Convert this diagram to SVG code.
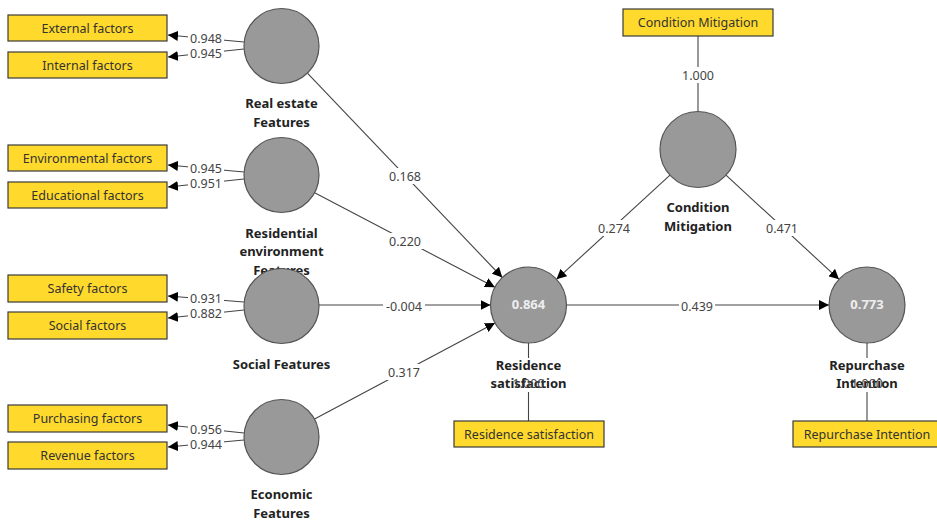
<svg xmlns="http://www.w3.org/2000/svg" width="937" height="521" viewBox="0 0 937 521">
<style>
.box{fill:#FFD92B;stroke:#3a3a3a;stroke-width:1.2}
.bt{font-family:"Noto Sans","Open Sans",sans-serif;font-size:12.5px;fill:#333;text-anchor:middle;dominant-baseline:central}
.lv{fill:#999;stroke:#555;stroke-width:1.2}
.nl{font-family:"Noto Sans","Open Sans",sans-serif;font-size:13px;font-weight:bold;fill:#222;text-anchor:middle}
.r2{font-family:"Noto Sans","Open Sans",sans-serif;font-size:13px;font-weight:bold;fill:#eee;text-anchor:middle;dominant-baseline:central}
.c{stroke:#444;stroke-width:1.1;fill:none}
.ca{stroke:#444;stroke-width:1.1;fill:none;marker-end:url(#ah)}
.lb{fill:#fff}
.lt{font-family:"Noto Sans","Open Sans",sans-serif;font-size:12.5px;fill:#444;text-anchor:middle;dominant-baseline:central}
</style>
<defs>
<marker id="ah" markerUnits="userSpaceOnUse" markerWidth="10" markerHeight="10" viewBox="0 0 10 10" refX="10" refY="5" orient="auto">
<path d="M0,0 L10,5 L0,10 z" fill="#000"/>
</marker>
</defs>
<rect width="937" height="521" fill="#fff"/>

<g id="connectors">
<line class="ca" x1="244" y1="42" x2="168" y2="35"/>
<line class="ca" x1="244" y1="49" x2="168" y2="57"/>
<line class="ca" x1="244" y1="172" x2="168" y2="165"/>
<line class="ca" x1="244" y1="179" x2="168" y2="187"/>
<line class="ca" x1="244" y1="302" x2="168" y2="296"/>
<line class="ca" x1="244" y1="310" x2="168" y2="318"/>
<line class="ca" x1="244" y1="433" x2="168" y2="425"/>
<line class="ca" x1="244" y1="440" x2="168" y2="447"/>
<line class="ca" x1="307.4" y1="73.1" x2="502.3" y2="277.5"/>
<line class="ca" x1="314.2" y1="192.4" x2="494.9" y2="287.3"/>
<line class="ca" x1="318.5" y1="305" x2="490.5" y2="305"/>
<line class="ca" x1="314.1" y1="419.3" x2="495" y2="322.9"/>
<line class="ca" x1="670" y1="175.2" x2="556.5" y2="279.3"/>
<line class="ca" x1="726" y1="175.2" x2="839" y2="279.3"/>
<line class="ca" x1="566.5" y1="305" x2="829" y2="305"/>
<line class="c" x1="698" y1="36" x2="698" y2="111.5"/>
<line class="c" x1="528.5" y1="343" x2="528.5" y2="421"/>
<line class="c" x1="867" y1="343" x2="867" y2="421"/>

<rect class="lb" x="188" y="31" width="36" height="14"/><text class="lt" x="206" y="38">0.948</text>
<rect class="lb" x="188" y="46" width="36" height="14"/><text class="lt" x="206" y="53">0.945</text>
<rect class="lb" x="188" y="161" width="36" height="14"/><text class="lt" x="206" y="168">0.945</text>
<rect class="lb" x="188" y="176" width="36" height="14"/><text class="lt" x="206" y="183">0.951</text>
<rect class="lb" x="188" y="291" width="36" height="14"/><text class="lt" x="206" y="298">0.931</text>
<rect class="lb" x="188" y="306" width="36" height="14"/><text class="lt" x="206" y="313">0.882</text>
<rect class="lb" x="188" y="422" width="36" height="14"/><text class="lt" x="206" y="429">0.956</text>
<rect class="lb" x="188" y="437" width="36" height="14"/><text class="lt" x="206" y="444">0.944</text>

<rect class="lb" x="387" y="168" width="36" height="16"/><text class="lt" x="405" y="176">0.168</text>
<rect class="lb" x="387" y="233" width="36" height="16"/><text class="lt" x="405" y="241">0.220</text>
<rect class="lb" x="383" y="298" width="42" height="16"/><text class="lt" x="404" y="306">-0.004</text>
<rect class="lb" x="386" y="364" width="36" height="16"/><text class="lt" x="404" y="372">0.317</text>
<rect class="lb" x="596" y="220" width="36" height="16"/><text class="lt" x="614" y="228">0.274</text>
<rect class="lb" x="764" y="220" width="36" height="16"/><text class="lt" x="782" y="228">0.471</text>
<rect class="lb" x="679" y="298" width="36" height="16"/><text class="lt" x="697" y="306">0.439</text>
<rect class="lb" x="680" y="67" width="36" height="16"/><text class="lt" x="698" y="75">1.000</text>
</g>

<g id="box-external"><rect class="box" x="8" y="15" width="159" height="26"/><text class="bt" x="87.5" y="28">External factors</text></g>
<g id="box-internal"><rect class="box" x="8" y="52" width="159" height="26"/><text class="bt" x="87.5" y="65">Internal factors</text></g>
<g id="box-environmental"><rect class="box" x="8" y="145" width="159" height="26"/><text class="bt" x="87.5" y="158">Environmental factors</text></g>
<g id="box-educational"><rect class="box" x="8" y="182" width="159" height="26"/><text class="bt" x="87.5" y="195">Educational factors</text></g>
<g id="box-safety"><rect class="box" x="8" y="275" width="159" height="27"/><text class="bt" x="87.5" y="288.5">Safety factors</text></g>
<g id="box-social"><rect class="box" x="8" y="312" width="159" height="27"/><text class="bt" x="87.5" y="325.5">Social factors</text></g>
<g id="box-purchasing"><rect class="box" x="8" y="405" width="159" height="27"/><text class="bt" x="87.5" y="418.5">Purchasing factors</text></g>
<g id="box-revenue"><rect class="box" x="8" y="442" width="159" height="27"/><text class="bt" x="87.5" y="455.5">Revenue factors</text></g>
<g id="box-condition"><rect class="box" x="623" y="9" width="150" height="27"/><text class="bt" x="698" y="22.5">Condition Mitigation</text></g>
<g id="box-residence"><rect class="box" x="454" y="421" width="150" height="26"/><text class="bt" x="529" y="434">Residence satisfaction</text></g>
<g id="box-repurchase"><rect class="box" x="793" y="421" width="150" height="26"/><text class="bt" x="867" y="434">Repurchase Intention</text></g>

<g id="lv-realestate"><circle class="lv" cx="281.5" cy="46" r="37.5"/><text class="nl" x="281.5" y="108">Real estate</text><text class="nl" x="281.5" y="127">Features</text></g>
<g id="lv-residential"><text class="nl" x="281.5" y="238">Residential</text><text class="nl" x="281.5" y="256">environment</text><text class="nl" x="281.5" y="275">Features</text><circle class="lv" cx="281.5" cy="175" r="37.5"/></g>
<g id="lv-social"><circle class="lv" cx="281.5" cy="306" r="37.5"/><text class="nl" x="281.5" y="369">Social Features</text></g>
<g id="lv-economic"><circle class="lv" cx="281.5" cy="437" r="37.5"/><text class="nl" x="281.5" y="499">Economic</text><text class="nl" x="281.5" y="518">Features</text></g>
<g id="lv-condition"><circle class="lv" cx="698" cy="149.5" r="38"/><text class="nl" x="698" y="212">Condition</text><text class="nl" x="698" y="231">Mitigation</text></g>
<g id="lv-residence"><circle class="lv" cx="528.5" cy="305" r="38"/><text class="r2" x="528.5" y="304">0.864</text>
<rect class="lb" x="495" y="358" width="68" height="34"/>
<text class="nl" x="528.5" y="370">Residence</text><text class="nl" x="528.5" y="388" fill="#1a2a55">satisfaction</text><text class="lt" x="528.5" y="383" fill="#666">1.000</text></g>
<g id="lv-repurchase"><circle class="lv" cx="867" cy="305" r="38"/><text class="r2" x="867" y="304">0.773</text>
<rect class="lb" x="833" y="358" width="68" height="34"/>
<text class="nl" x="867" y="370">Repurchase</text><text class="nl" x="867" y="388" fill="#1a2a55">Intention</text><text class="lt" x="867" y="383" fill="#666">1.000</text></g>
</svg>
